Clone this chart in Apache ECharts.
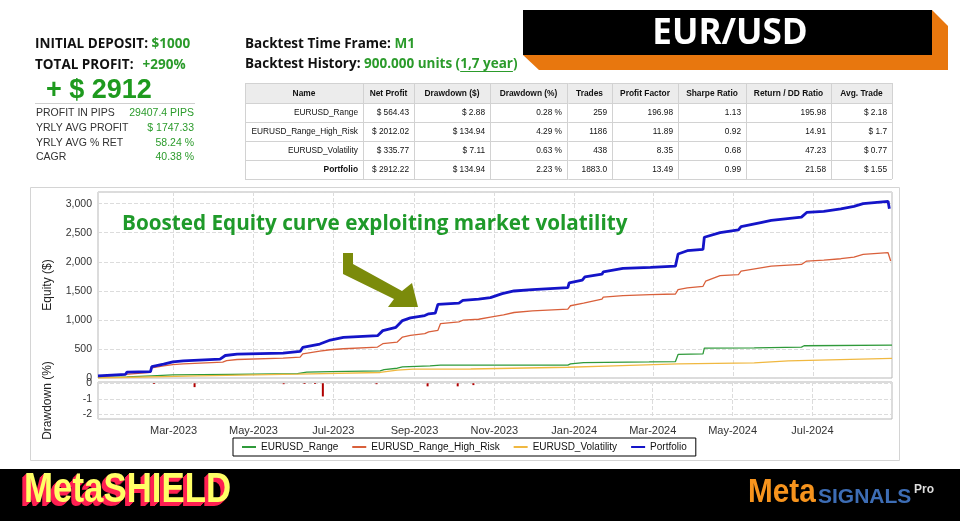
<!DOCTYPE html>
<html><head><meta charset="utf-8">
<script src="https://cdn.jsdelivr.net/npm/echarts@6/dist/echarts.min.js"></script>
<style>html,body{margin:0;padding:0;background:#fff}#c{width:960px;height:521px}</style>
</head><body><div id="c"></div><script>
// ---------- data ----------
const seriesNames = ['EURUSD_Range','EURUSD_Range_High_Risk','EURUSD_Volatility','Portfolio'];

const portfolioDates = ['2023-01-03','2023-01-24','2023-01-25','2023-02-12','2023-02-13','2023-02-22','2023-03-01','2023-03-09','2023-04-06','2023-04-10','2023-04-19','2023-05-24','2023-06-06','2023-06-08','2023-06-21','2023-06-29','2023-07-09','2023-08-04','2023-08-08','2023-08-18','2023-08-23','2023-08-29','2023-09-09','2023-09-12','2023-09-17','2023-09-19','2023-10-05','2023-10-08','2023-10-20','2023-10-29','2023-11-07','2023-11-16','2023-11-30','2023-12-27','2023-12-28','2024-01-07','2024-01-09','2024-01-22','2024-01-23','2024-02-07','2024-02-28','2024-03-18','2024-03-20','2024-03-27','2024-04-08','2024-04-09','2024-04-21','2024-05-05','2024-05-07','2024-05-22','2024-05-30','2024-06-22','2024-06-26','2024-07-09','2024-07-22','2024-08-01','2024-08-08','2024-08-27','2024-08-28'];
const portfolioEquity = [35,64,100,110,196,237,277,295,324,387,410,428,457,526,584,653,699,728,815,872,988,1035,1075,1104,1115,1266,1288,1335,1358,1382,1451,1497,1520,1555,1635,1682,1739,1786,1826,1885,1902,1925,2133,2190,2214,2422,2502,2549,2606,2675,2710,2768,2848,2866,2908,2953,3000,3040,2912];

const highRiskDates = ['2023-01-03','2023-01-24','2023-01-25','2023-02-12','2023-02-13','2023-02-22','2023-03-01','2023-03-09','2023-04-08','2023-04-11','2023-04-19','2023-05-24','2023-06-06','2023-06-08','2023-06-21','2023-06-29','2023-07-09','2023-08-04','2023-08-08','2023-08-19','2023-08-23','2023-08-29','2023-09-09','2023-09-12','2023-09-19','2023-09-21','2023-10-05','2023-10-08','2023-10-20','2023-10-29','2023-11-08','2023-11-16','2023-11-30','2023-12-27','2023-12-29','2024-01-08','2024-01-09','2024-01-22','2024-01-23','2024-02-07','2024-02-28','2024-03-18','2024-03-20','2024-03-27','2024-04-08','2024-04-10','2024-04-21','2024-05-05','2024-05-07','2024-05-22','2024-05-30','2024-06-22','2024-06-26','2024-07-09','2024-07-22','2024-08-01','2024-08-08','2024-08-27','2024-08-29'];
const highRiskEquity = [20,64,85,98,173,208,231,243,272,300,318,341,358,416,462,486,503,532,590,619,705,734,763,792,821,936,965,994,1011,1046,1086,1127,1156,1185,1243,1289,1318,1358,1393,1416,1434,1445,1520,1549,1578,1665,1763,1780,1838,1896,1925,1954,2012,2029,2052,2081,2127,2156,2012];

const rangeDates = ['2023-01-03','2023-01-25','2023-02-13','2023-03-01','2023-04-14','2023-06-04','2023-06-11','2023-06-29','2023-08-06','2023-08-09','2023-08-19','2023-08-23','2023-09-13','2023-09-21','2023-12-27','2023-12-29','2024-01-08','2024-02-27','2024-03-18','2024-03-20','2024-04-08','2024-04-09','2024-05-17','2024-06-22','2024-06-24','2024-08-30'];
const rangeEquity = [10,20,38,55,64,75,100,110,122,145,168,191,208,220,222,243,266,277,283,405,416,514,520,532,555,566];

const volatilityDates = ['2023-01-03','2023-03-20','2023-06-04','2023-08-06','2023-08-19','2023-08-31','2023-10-14','2023-12-27','2024-01-31','2024-03-20','2024-05-17','2024-06-12','2024-08-30'];
const volatilityEquity = [0,38,67,95,136,153,155,185,208,243,260,295,336];

const drawdownDates = ['2023-02-14','2023-03-17','2023-05-24','2023-06-09','2023-06-17','2023-06-23','2023-08-03','2023-09-11','2023-10-04','2023-10-16'];
const drawdownPct = [-0.05,-0.25,-0.06,-0.05,-0.05,-0.85,-0.06,-0.2,-0.2,-0.12];

const tableHeader = ['Name','Net Profit','Drawdown ($)','Drawdown (%)','Trades','Profit Factor','Sharpe Ratio','Return / DD Ratio','Avg. Trade'];
const tableRows = [
  ['EURUSD_Range','$ 564.43','$ 2.88','0.28 %','259','196.98','1.13','195.98','$ 2.18'],
  ['EURUSD_Range_High_Risk','$ 2012.02','$ 134.94','4.29 %','1186','11.89','0.92','14.91','$ 1.7'],
  ['EURUSD_Volatility','$ 335.77','$ 7.11','0.63 %','438','8.35','0.68','47.23','$ 0.77'],
  ['Portfolio','$ 2912.22','$ 134.94','2.23 %','1883.0','13.49','0.99','21.58','$ 1.55']
];
const statLabels = ['PROFIT IN PIPS','YRLY AVG PROFIT','YRLY AVG % RET','CAGR'];
const statValues = ['29407.4 PIPS','$ 1747.33','58.24 %','40.38 %'];

// ---------- helpers ----------
const mctx = document.createElement('canvas').getContext('2d');
function tw(font, s){ mctx.font = font; return mctx.measureText(s).width; }
const zip = (d, v) => d.map((x, i) => [x, v[i]]);

const GREEN = '#2b9b2b';
const HF = 'bold 13.5px "Open Sans"';
const g = [];
function txt(x, y, s, font, fill, align, extra){
  g.push(Object.assign({type:'text', x, y, z:100, style:{text:s, font, fill, align:align||'left', verticalAlign:'middle'}}, extra||{}));
}

// EUR/USD banner
g.push({type:'polygon', z:10, shape:{points:[[932,10],[948,26],[948,70],[539,70],[523,55],[932,55]]}, style:{fill:'#e8770e'}});
g.push({type:'rect', z:11, shape:{x:523,y:10,width:409,height:45}, style:{fill:'#000'}});
txt(730, 34, 'EUR/USD', 'bold 35px "Open Sans"', '#fff', 'center');

// Top-left summary
let w = tw(HF, 'INITIAL DEPOSIT: ');
txt(35, 44, 'INITIAL DEPOSIT: ', HF, '#111');
txt(35 + w, 44, '$1000', HF, GREEN);
w = tw(HF, 'TOTAL PROFIT:');
txt(35, 65, 'TOTAL PROFIT:', HF, '#111');
txt(35 + w + 9, 65, '+290%', HF, GREEN);
txt(46, 91, '+ $ 2912', 'bold 27px "Liberation Sans"', '#1e9a1e');
g.push({type:'line', z:10, shape:{x1:35,y1:103.5,x2:195,y2:103.5}, style:{stroke:'#cfcfcf', lineWidth:1}});
const SF = '10.5px "Liberation Sans"';
statLabels.forEach((s, i) => {
  const y = 113.5 + i * 14.6;
  txt(36, y, s, SF, '#333');
  txt(194, y, statValues[i], SF, GREEN, 'right');
});

// Backtest lines
w = tw(HF, 'Backtest Time Frame: ');
txt(245, 44, 'Backtest Time Frame: ', HF, '#111');
txt(245 + w, 44, 'M1', HF, GREEN);
w = tw(HF, 'Backtest History: ');
txt(245, 64, 'Backtest History: ', HF, '#111');
let x0 = 245 + w;
txt(x0, 64, '900.000 units (', HF, GREEN);
x0 += tw(HF, '900.000 units (');
const uw = tw(HF, '1,7 year');
txt(x0, 64, '1,7 year', HF, GREEN);
g.push({type:'line', z:100, shape:{x1:x0,y1:71.5,x2:x0+uw,y2:71.5}, style:{stroke:GREEN, lineWidth:1}});
txt(x0 + uw, 64, ')', HF, GREEN);

// Table
const colX = [245,363,414,490,567,612,678,746,831,892];
const rowY = [83,103,122,141,160,179];
g.push({type:'rect', z:10, shape:{x:245,y:83,width:647,height:20}, style:{fill:'#ececec'}});
rowY.forEach(y => g.push({type:'line', z:11, shape:{x1:245,y1:y+0.5,x2:892,y2:y+0.5}, style:{stroke:'#d2d2d2', lineWidth:1}}));
colX.forEach(x => g.push({type:'line', z:11, shape:{x1:x+0.5,y1:83,x2:x+0.5,y2:179}, style:{stroke:'#d2d2d2', lineWidth:1}}));
const TFB = 'bold 8.4px "Liberation Sans"';
const TF = '8.3px "Liberation Sans"';
tableHeader.forEach((h, c) => txt((colX[c] + colX[c+1]) / 2, 93.5, h, TFB, '#111', 'center'));
tableRows.forEach((row, r) => {
  const y = (rowY[r+1] + rowY[r+2]) / 2 + 0.5;
  row.forEach((v, c) => txt(colX[c+1] - 5, y, v, (c === 0 && r === 3) ? TFB : TF, '#111', 'right'));
});

// Chart outer frame
g.push({type:'rect', z:0, shape:{x:30.5,y:187.5,width:869,height:273}, style:{fill:'none', stroke:'#d4d4d4', lineWidth:1}});

// Annotation + arrow
txt(122, 224, 'Boosted Equity curve exploiting market volatility', 'bold 20.7px "Open Sans"', '#1f9a2a');
g.push({type:'polygon', z:100, shape:{points:[[343,253],[353,253],[353,264],[402,291],[412,283],[418,307],[388,307],[394,299],[343,274]]}, style:{fill:'#7b8b0b'}});

// Bottom bar
g.push({type:'rect', z:10, shape:{x:0,y:469,width:960,height:52}, style:{fill:'#000'}});
const MSF = 'bold 42px "Liberation Sans"';
[[4,4],[3,3],[2,2],[1,1]].forEach(o => g.push({type:'text', z:20, x:24 - o[0], y:490 + o[1], scaleX:0.83, style:{text:'MetaSHIELD', font:MSF, fill:'#ff2052', align:'left', verticalAlign:'middle'}}));
g.push({type:'text', z:21, x:24, y:490, scaleX:0.83, style:{text:'MetaSHIELD', font:MSF, fill:'#ffff66', align:'left', verticalAlign:'middle'}});
g.push({type:'text', z:21, x:748, y:493, scaleX:0.9, style:{text:'Meta', font:'bold 33px "Liberation Sans"', fill:'#f7941d', align:'left', verticalAlign:'middle'}});
g.push({type:'text', z:21, x:818, y:497.5, scaleX:1.0, style:{text:'SIGNALS', font:'bold 21px "Liberation Sans"', fill:'#3d6db5', align:'left', verticalAlign:'middle'}});
g.push({type:'text', z:21, x:914, y:490, style:{text:'Pro', font:'bold 12px "Liberation Sans"', fill:'#dddddd', align:'left', verticalAlign:'middle'}});

// ---------- chart ----------
const tMin = new Date(2023,0,3).getTime();
const tMax = new Date(2024,7,30).getTime();
const colors = ['#2f9a3a','#d9603b','#f0b840','#1414c8'];
const splitStyle = {show:true, lineStyle:{type:'dashed', color:'#dcdcdc', width:1}};
const xBase = {type:'time', min:tMin, max:tMax, splitNumber:8, axisTick:{show:false}, axisLine:{show:false}, splitLine:splitStyle};

const chart = echarts.init(document.getElementById('c'), null, {renderer:'canvas'});
chart.setOption({
  backgroundColor:'#fff',
  animation:false,
  color: colors,
  grid:[
    {left:98, width:794, top:192, height:186, show:true, borderColor:'#b8b8b8', borderWidth:1, backgroundColor:'#fff'},
    {left:98, width:794, top:382, height:37, show:true, borderColor:'#b8b8b8', borderWidth:1, backgroundColor:'#fff'}
  ],
  xAxis:[
    Object.assign({gridIndex:0, axisLabel:{show:false}}, xBase),
    Object.assign({gridIndex:1, axisLabel:{formatter:'{MMM}-{yyyy}', fontFamily:'Liberation Sans', fontSize:11, color:'#333', margin:6}}, xBase)
  ],
  yAxis:[
    {type:'value', gridIndex:0, min:0, max:3200, interval:500, name:'Equity ($)', nameLocation:'middle', nameGap:44,
     nameTextStyle:{fontFamily:'Liberation Sans', fontSize:12, color:'#222'},
     axisLine:{show:false}, axisTick:{show:false}, splitLine:splitStyle,
     axisLabel:{fontFamily:'Liberation Sans', fontSize:10.5, color:'#333', margin:6, formatter:v => (v % 500 === 0) ? v.toLocaleString('en-US') : ''}},
    {type:'value', gridIndex:1, min:-2.3, max:0.08, splitNumber:3, name:'Drawdown (%)', nameLocation:'middle', nameGap:44,
     nameTextStyle:{fontFamily:'Liberation Sans', fontSize:12, color:'#222'},
     axisLine:{show:false}, axisTick:{show:false}, splitLine:splitStyle,
     axisLabel:{fontFamily:'Liberation Sans', fontSize:10.5, color:'#333', margin:6, formatter:v => Number.isInteger(v) ? String(v) : ''}}
  ],
  legend:{left:233, top:438, itemWidth:14, itemHeight:2, itemGap:14, padding:[4,9], borderColor:'#000', borderWidth:1, backgroundColor:'#fff',
    textStyle:{fontFamily:'Liberation Sans', fontSize:10, color:'#111'},
    data: seriesNames.map(n => ({name:n, icon:'rect'}))},
  graphic: g,
  series:[
    {name:seriesNames[0], type:'line', xAxisIndex:0, yAxisIndex:0, symbol:'none', data:zip(rangeDates, rangeEquity), lineStyle:{width:1.3, color:colors[0]}, itemStyle:{color:colors[0]}},
    {name:seriesNames[1], type:'line', xAxisIndex:0, yAxisIndex:0, symbol:'none', data:zip(highRiskDates, highRiskEquity), lineStyle:{width:1.3, color:colors[1]}, itemStyle:{color:colors[1]}},
    {name:seriesNames[2], type:'line', xAxisIndex:0, yAxisIndex:0, symbol:'none', data:zip(volatilityDates, volatilityEquity), lineStyle:{width:1.3, color:colors[2]}, itemStyle:{color:colors[2]}},
    {name:seriesNames[3], type:'line', xAxisIndex:0, yAxisIndex:0, symbol:'none', data:zip(portfolioDates, portfolioEquity), lineStyle:{width:2.8, color:colors[3]}, itemStyle:{color:colors[3]}},
    {name:'Drawdown', type:'bar', xAxisIndex:1, yAxisIndex:1, barWidth:2, data:zip(drawdownDates, drawdownPct), itemStyle:{color:'#b00000'}}
  ]
});
</script></body></html>
